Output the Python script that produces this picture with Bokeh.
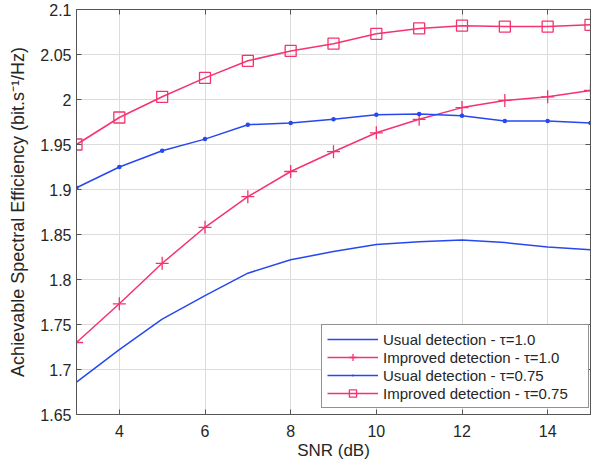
from bokeh.plotting import figure
from bokeh.embed import file_html
from bokeh.resources import INLINE
from bokeh.models import LinearAxis, FixedTicker, Range1d, Legend

snr = [3, 4, 5, 6, 7, 8, 9, 10, 11, 12, 13, 14, 15]
usual_tau10 = [1.686, 1.722, 1.756, 1.782, 1.807, 1.822, 1.831, 1.839, 1.842, 1.844, 1.841, 1.836, 1.833]
improved_tau10 = [1.730, 1.773, 1.818, 1.858, 1.892, 1.920, 1.942, 1.963, 1.978, 1.991, 1.999, 2.003, 2.010]
usual_tau075 = [1.902, 1.925, 1.943, 1.956, 1.972, 1.974, 1.978, 1.983, 1.984, 1.982, 1.976, 1.976, 1.974]
improved_tau075 = [1.950, 1.980, 2.003, 2.024, 2.043, 2.054, 2.062, 2.073, 2.079, 2.082, 2.081, 2.081, 2.083]

x_ticks = [4, 6, 8, 10, 12, 14]
y_ticks = [1.65, 1.7, 1.75, 1.8, 1.85, 1.9, 1.95, 2.0, 2.05, 2.1]
y_tick_labels = ["1.65", "1.7", "1.75", "1.8", "1.85", "1.9", "1.95", "2", "2.05", "2.1"]

BLUE = "#2748f0"
PINK = "#f5336f"
FONT = "Liberation Sans"
AXC = "#555555"

p = figure(width=594, height=462, output_backend="svg", toolbar_location=None,
           x_range=Range1d(3, 15), y_range=Range1d(1.65, 2.1),
           min_border_left=76, min_border_right=4, min_border_top=9, min_border_bottom=46)
p.outline_line_color = AXC
p.outline_line_width = 1

# primary axes
p.xaxis.ticker = FixedTicker(ticks=x_ticks)
p.yaxis.ticker = FixedTicker(ticks=y_ticks)
p.yaxis.major_label_overrides = {v: s for v, s in zip(y_ticks, y_tick_labels)}
for ax in (p.xaxis[0], p.yaxis[0]):
    ax.major_tick_in = 5
    ax.major_tick_out = 0
    ax.minor_tick_line_color = None
    ax.axis_line_color = AXC
    ax.major_tick_line_color = AXC
    ax.major_label_text_font = FONT
    ax.major_label_text_font_size = "16px"
    ax.major_label_text_color = "#262626"
    ax.axis_label_text_font = FONT
    ax.axis_label_text_font_size = "17px"
    ax.axis_label_text_font_style = "normal"
    ax.axis_label_text_color = "#262626"
p.xaxis.axis_label = "SNR (dB)"
p.xaxis.major_label_standoff = 10
p.xaxis.axis_label_standoff = 1
p.yaxis.axis_label = "Achievable Spectral Efficiency (bit.s\u207b\u00b9/Hz)"
p.yaxis.axis_label_text_font_size = "18px"
p.yaxis.major_label_standoff = 5
p.yaxis.axis_label_standoff = 9

# box ticks on top and right
top = LinearAxis(ticker=FixedTicker(ticks=x_ticks), major_label_text_font_size="0px",
                 major_tick_in=5, major_tick_out=0, minor_tick_line_color=None,
                 axis_line_color=AXC, major_tick_line_color=AXC, major_label_standoff=0)
right = LinearAxis(ticker=FixedTicker(ticks=y_ticks), major_label_text_font_size="0px",
                   major_tick_in=5, major_tick_out=0, minor_tick_line_color=None,
                   axis_line_color=AXC, major_tick_line_color=AXC, major_label_standoff=0)
p.add_layout(top, "above")
p.add_layout(right, "right")

p.xgrid.ticker = FixedTicker(ticks=x_ticks)
p.ygrid.ticker = FixedTicker(ticks=y_ticks)
p.grid.grid_line_color = "#dcdcdc"
p.grid.grid_line_width = 1

l1 = p.line(snr, usual_tau10, line_color=BLUE, line_width=1.5)

l2 = p.line(snr, improved_tau10, line_color=PINK, line_width=1.5)
m2 = p.scatter(snr, improved_tau10, marker="cross", size=13, line_color=PINK, line_width=1.3)

l3 = p.line(snr, usual_tau075, line_color=BLUE, line_width=1.5)
m3 = p.scatter(snr, usual_tau075, marker="dot", size=18, line_color=BLUE, fill_color=BLUE)

l4 = p.line(snr, improved_tau075, line_color=PINK, line_width=1.5)
m4 = p.scatter(snr, improved_tau075, marker="square", size=11, line_color=PINK,
               fill_alpha=0, line_width=1.3)

legend = Legend(items=[
    ("Usual detection - \u03c4=1.0", [l1]),
    ("Improved detection - \u03c4=1.0", [l2, m2]),
    ("Usual detection - \u03c4=0.75", [l3, m3]),
    ("Improved detection - \u03c4=0.75", [l4, m4]),
], location=(245, 6))
legend.margin = 0
legend.padding = 5
legend.spacing = 0
legend.glyph_width = 51
legend.glyph_height = 18
legend.label_height = 18
legend.label_width = 200
legend.label_standoff = 5
legend.label_text_font = FONT
legend.label_text_font_size = "15px"
legend.label_text_color = "#262626"
legend.border_line_color = "#262626"
legend.border_line_width = 1
legend.background_fill_color = "white"
p.add_layout(legend)

open("out.html", "w").write(file_html(p, INLINE))
